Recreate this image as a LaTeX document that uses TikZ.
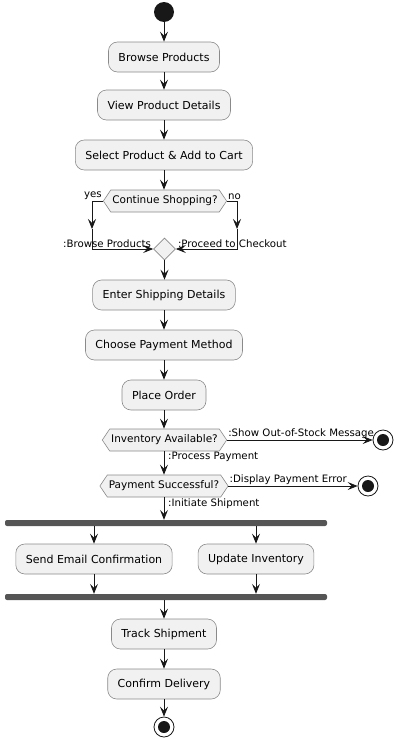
\documentclass[tikz,border=0pt]{standalone}
\usepackage{fontspec}
\setmainfont{DejaVu Sans}
\usetikzlibrary{arrows.meta,shapes.symbols,shapes.geometric}
\definecolor{boxfill}{HTML}{F1F1F1}
\definecolor{lin}{HTML}{181818}
\definecolor{barc}{HTML}{555555}
\definecolor{bord}{HTML}{8A8A8A}
\begin{document}
\begin{tikzpicture}[x=1pt,y=-1pt,
 act/.style={draw=bord, line width=0.6pt, fill=boxfill, rounded corners=9pt, minimum height=30pt, inner xsep=10pt, font=\fontsize{11}{13}\selectfont},
 hex/.style={signal, signal to=west and east, signal pointer angle=112, draw=bord, line width=0.6pt, fill=boxfill, minimum height=22pt, inner xsep=1.5pt, inner ysep=2pt, font=\fontsize{10.5}{12}\selectfont},
 merg/.style={diamond, draw=bord, line width=0.6pt, fill=boxfill, minimum size=22pt, inner sep=0pt},
 lbl/.style={font=\fontsize{10.2}{12}\selectfont, inner sep=1pt},
 arr/.style={draw=lin, line width=0.8pt, -{Stealth[length=10pt,width=8pt,inset=4pt]}},
 startc/.style={circle, fill=lin, minimum size=20pt, inner sep=0pt},
 endc/.style={circle, draw=lin, line width=0.8pt, fill=white, minimum size=20pt, inner sep=0pt, path picture={\fill[lin] (path picture bounding box.center) circle (6pt);}},
 barn/.style={fill=barc, rounded corners=2pt, minimum width=322pt, minimum height=6pt, inner sep=0pt},
]
\useasboundingbox (0,0) rectangle (406,739);
\node[startc] (st) at (164,12) {};
\node[act] (b1) at (164,57) {Browse Products};
\node[act] (b2) at (164,105) {View Product Details};
\node[act] (b3) at (164,155) {Select Product \& Add to Cart};
\node[hex] (h1) at (165,201) {Continue Shopping?};
\node[merg] (m) at (164.5,249) {};
\node[act] (b4) at (164,295) {Enter Shipping Details};
\node[act] (b5) at (164,345) {Choose Payment Method};
\node[act] (b6) at (164,395) {Place Order};
\node[hex] (h2) at (164.5,440) {Inventory Available?};
\node[endc] (e1) at (383,440) {};
\node[hex] (h3) at (164,486) {Payment Successful?};
\node[endc] (e2) at (368,486) {};
\node[barn] (f1) at (166,523) {};
\node[act] (s1) at (94,559) {Send Email Confirmation};
\node[act] (s2) at (256,559) {Update Inventory};
\node[barn] (f2) at (166,597) {};
\node[act] (b7) at (164,634) {Track Shipment};
\node[act] (b8) at (164,684) {Confirm Delivery};
\node[endc] (e3) at (164,727) {};

\coordinate (yl1) at (92,201);
\coordinate (yl2) at (92,229);
\coordinate (yl3) at (92,249);
\coordinate (nl1) at (237,201);
\coordinate (nl2) at (237,229);
\coordinate (nl3) at (237,249);

\draw[arr] (st) -- (b1);
\draw[arr] (b1) -- (b2);
\draw[arr] (b2) -- (b3);
\draw[arr] (b3) -- (h1.north -| b3);
\draw[arr] (h1.west) -- (yl1) -- (yl2);
\draw[arr] (yl2) -- (yl3) -- (m.west);
\draw[arr] (h1.east) -- (nl1) -- (nl2);
\draw[arr] (nl2) -- (nl3) -- (m.east);
\draw[arr] (m.south) -- (b4.north -| m.south);
\draw[arr] (b4) -- (b5);
\draw[arr] (b5) -- (b6);
\draw[arr] (b6) -- (h2.north -| b6);
\draw[arr] (h2.east) -- (e1.west);
\draw[arr] (h2.south -| b6) -- (h3.north -| b6);
\draw[arr] (h3.east) -- (e2.west);
\draw[arr] (h3.south -| b6) -- (f1.north -| b6);
\draw[arr] (f1.south -| s1) -- (s1.north);
\draw[arr] (f1.south -| s2) -- (s2.north);
\draw[arr] (s1.south) -- (f2.north -| s1);
\draw[arr] (s2.south) -- (f2.north -| s2);
\draw[arr] (f2.south -| b7) -- (b7.north);
\draw[arr] (b7) -- (b8);
\draw[arr] (b8) -- (e3);

\node[lbl, anchor=south east] (ly) at (h1.west) {yes};
\node[lbl, anchor=south west] (ln) at (h1.east) {no};
\node[lbl, anchor=south east] (lb) at ([xshift=-1pt]m.west) {:Browse Products};
\node[lbl, anchor=south west] (lp) at ([xshift=1pt]m.east) {:Proceed to Checkout};
\node[lbl, anchor=south west] (lo) at (h2.east) {:Show Out-of-Stock Message};
\node[lbl, anchor=north west] (lpp) at ([xshift=3pt]h2.south -| b6) {:Process Payment};
\node[lbl, anchor=south west] (ld) at (h3.east) {:Display Payment Error};
\node[lbl, anchor=north west] (li) at ([xshift=3pt]h3.south -| b6) {:Initiate Shipment};
\end{tikzpicture}
\end{document}
